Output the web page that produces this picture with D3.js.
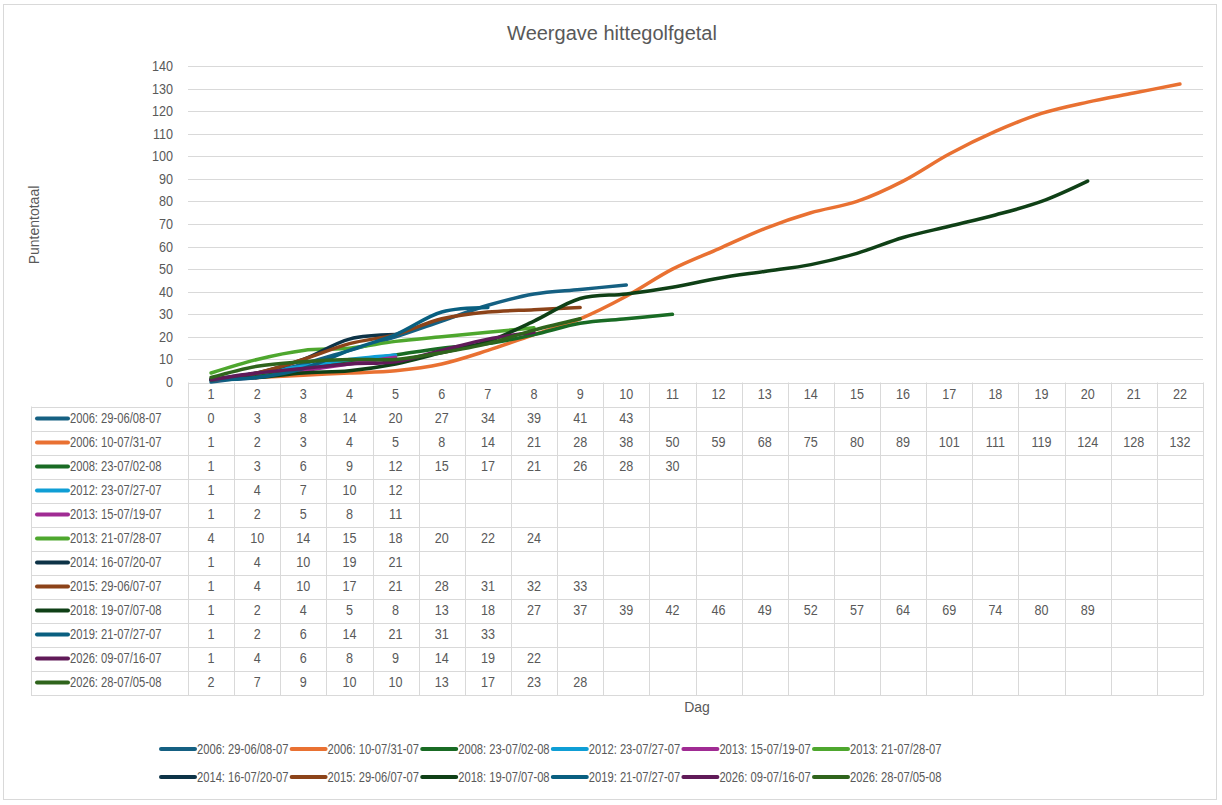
<!DOCTYPE html>
<html>
<head>
<meta charset="utf-8">
<script src="https://cdn.jsdelivr.net/npm/d3@7/dist/d3.min.js"></script>
<style>
  body { margin: 0; background: #fff; }
  text { font-family: "Liberation Sans", Arial, sans-serif; fill: #595959; }
  /* the original uses a narrow font, squeeze the glyphs a bit */
  .narrow { transform-box: fill-box; transform-origin: left center; transform: scaleX(0.8); }
  .narrowMid { transform-box: fill-box; transform-origin: center center; transform: scaleX(0.9); }
  .narrowEnd { transform-box: fill-box; transform-origin: right center; transform: scaleX(0.9); }
</style>
</head>
<body>
<svg id="chart" width="1222" height="805"></svg>
<script>
// days on the x axis
const days = d3.range(1, 23);
const yTicks = d3.range(0, 150, 10);

// series names as shown in legend / table
const names = [
  '2006: 29-06/08-07', '2006: 10-07/31-07', '2008: 23-07/02-08', '2012: 23-07/27-07',
  '2013: 15-07/19-07', '2013: 21-07/28-07', '2014: 16-07/20-07', '2015: 29-06/07-07',
  '2018: 19-07/07-08', '2019: 21-07/27-07', '2026: 09-07/16-07', '2026: 28-07/05-08'
];

// cumulative points per day
const s2006a = [0, 3, 8, 14, 20, 27, 34, 39, 41, 43];
const s2006b = [1, 2, 3, 4, 5, 8, 14, 21, 28, 38, 50, 59, 68, 75, 80, 89, 101, 111, 119, 124, 128, 132];
const s2008 = [1, 3, 6, 9, 12, 15, 17, 21, 26, 28, 30];
const s2012 = [1, 4, 7, 10, 12];
const s2013a = [1, 2, 5, 8, 11];
const s2013b = [4, 10, 14, 15, 18, 20, 22, 24];
const s2014 = [1, 4, 10, 19, 21];
const s2015 = [1, 4, 10, 17, 21, 28, 31, 32, 33];
const s2018 = [1, 2, 4, 5, 8, 13, 18, 27, 37, 39, 42, 46, 49, 52, 57, 64, 69, 74, 80, 89];
const s2019 = [1, 2, 6, 14, 21, 31, 33];
const s2026a = [1, 4, 6, 8, 9, 14, 19, 22];
const s2026b = [2, 7, 9, 10, 10, 13, 17, 23, 28];

const colors = ['#156082', '#E97132', '#196B24', '#0F9ED5', '#A02B93', '#4EA72E',
                '#0D3347', '#8C4319', '#0F4016', '#095F80', '#601A58', '#2F641C'];

const seriesData = [s2006a, s2006b, s2008, s2012, s2013a, s2013b, s2014, s2015, s2018, s2019, s2026a, s2026b];
const series = names.map((n, i) => ({ name: n, values: seriesData[i], color: colors[i] }));

// layout
const plotL = 188, plotR = 1203, plotT = 66, plotB = 382;
const tableL = 31, rowH = 24, headH = 24;
const grid = '#d9d9d9';

const svg = d3.select('#chart');

svg.append('rect')
  .attr('x', 3.5).attr('y', 4.5).attr('width', 1213).attr('height', 795)
  .attr('fill', '#fff').attr('stroke', grid);

svg.append('text')
  .attr('x', 612).attr('y', 40)
  .attr('text-anchor', 'middle')
  .style('font-size', '20px')
  .text('Weergave hittegolfgetal');

const x = d3.scaleBand().domain(days).range([plotL, plotR]);
const y = d3.scaleLinear().domain([0, 140]).range([plotB, plotT]);

// horizontal gridlines
svg.append('g')
  .selectAll('line')
  .data(yTicks.filter(d => d > 0))
  .join('line')
  .attr('x1', plotL).attr('x2', plotR)
  .attr('y1', d => Math.round(y(d)) + 0.5).attr('y2', d => Math.round(y(d)) + 0.5)
  .attr('stroke', grid);

// y axis labels
const yAxis = svg.append('g')
  .attr('transform', `translate(${plotL},0)`)
  .call(d3.axisLeft(y).tickValues(yTicks).tickSize(0).tickPadding(15));
yAxis.select('.domain').remove();
yAxis.selectAll('text')
  .attr('class', 'narrowEnd')
  .style('font-size', '14px')
  .style('font-family', '"Liberation Sans", Arial, sans-serif')
  .attr('fill', '#595959');

svg.append('text')
  .attr('transform', 'translate(39,225) rotate(-90)')
  .attr('text-anchor', 'middle')
  .style('font-size', '14px')
  .text('Puntentotaal');

// data table
const tableTop = plotB + 0.5;
const nRows = series.length;
const tableBottom = tableTop + headH + nRows * rowH;
const tg = svg.append('g');

// horizontal table lines
const hLines = [tableTop].concat(d3.range(0, nRows + 1).map(i => tableTop + headH + i * rowH));
tg.selectAll('line.h')
  .data(hLines)
  .join('line')
  .attr('class', 'h')
  .attr('x1', (d, i) => i === 0 ? plotL : tableL)
  .attr('x2', plotR)
  .attr('y1', d => Math.round(d) + 0.5).attr('y2', d => Math.round(d) + 0.5)
  .attr('stroke', grid);

// vertical table lines
const vLines = days.map(d => x(d)).concat([plotR]);
tg.selectAll('line.v')
  .data(vLines)
  .join('line')
  .attr('class', 'v')
  .attr('x1', d => Math.round(d) + 0.5).attr('x2', d => Math.round(d) + 0.5)
  .attr('y1', tableTop).attr('y2', Math.round(tableBottom) + 0.5)
  .attr('stroke', grid);
tg.append('line')
  .attr('x1', tableL + 0.5).attr('x2', tableL + 0.5)
  .attr('y1', tableTop + headH).attr('y2', Math.round(tableBottom) + 0.5)
  .attr('stroke', grid);

// header row (day numbers)
tg.selectAll('text.day')
  .data(days)
  .join('text')
  .attr('class', 'day narrowMid')
  .attr('x', d => x(d) + x.bandwidth() / 2)
  .attr('y', tableTop + headH / 2 + 5)
  .attr('text-anchor', 'middle')
  .style('font-size', '14px')
  .text(d => d);

// series rows
series.forEach((s, i) => {
  const cy = tableTop + headH + i * rowH + rowH / 2;
  tg.append('line')
    .attr('x1', 37).attr('x2', 68)
    .attr('y1', cy).attr('y2', cy)
    .attr('stroke', s.color).attr('stroke-width', 4).attr('stroke-linecap', 'round');
  tg.append('text')
    .attr('class', 'narrow')
    .attr('x', 70).attr('y', cy + 5)
    .style('font-size', '14px')
    .text(s.name);
  tg.selectAll(null)
    .data(s.values)
    .join('text')
    .attr('class', 'narrowMid')
    .attr('x', (d, j) => x(days[j]) + x.bandwidth() / 2)
    .attr('y', cy + 5)
    .attr('text-anchor', 'middle')
    .style('font-size', '14px')
    .text(d => d);
});

// lines
const line = d3.line()
  .x((d, j) => x(days[j]) + x.bandwidth() / 2)
  .y(d => y(d))
  .curve(d3.curveCatmullRom.alpha(0.5));

svg.append('g')
  .selectAll('path')
  .data(series)
  .join('path')
  .attr('d', s => line(s.values))
  .attr('fill', 'none')
  .attr('stroke', s => s.color)
  .attr('stroke-width', 3.5)
  .attr('stroke-linecap', 'round');

svg.append('text')
  .attr('x', 697).attr('y', 712)
  .attr('text-anchor', 'middle')
  .style('font-size', '14px')
  .text('Dag');

// legend, two rows of six
const legend = svg.append('g');
const legItems = legend.selectAll('g')
  .data(series)
  .join('g')
  .attr('transform', (d, i) => `translate(${160 + (i % 6) * 130.6},${749 + Math.floor(i / 6) * 28})`);
legItems.append('line')
  .attr('x1', 1).attr('x2', 35)
  .attr('stroke', d => d.color).attr('stroke-width', 4).attr('stroke-linecap', 'round');
legItems.append('text')
  .attr('class', 'narrow')
  .attr('x', 37).attr('y', 5)
  .style('font-size', '14px')
  .text(d => d.name);
</script>
</body>
</html>
